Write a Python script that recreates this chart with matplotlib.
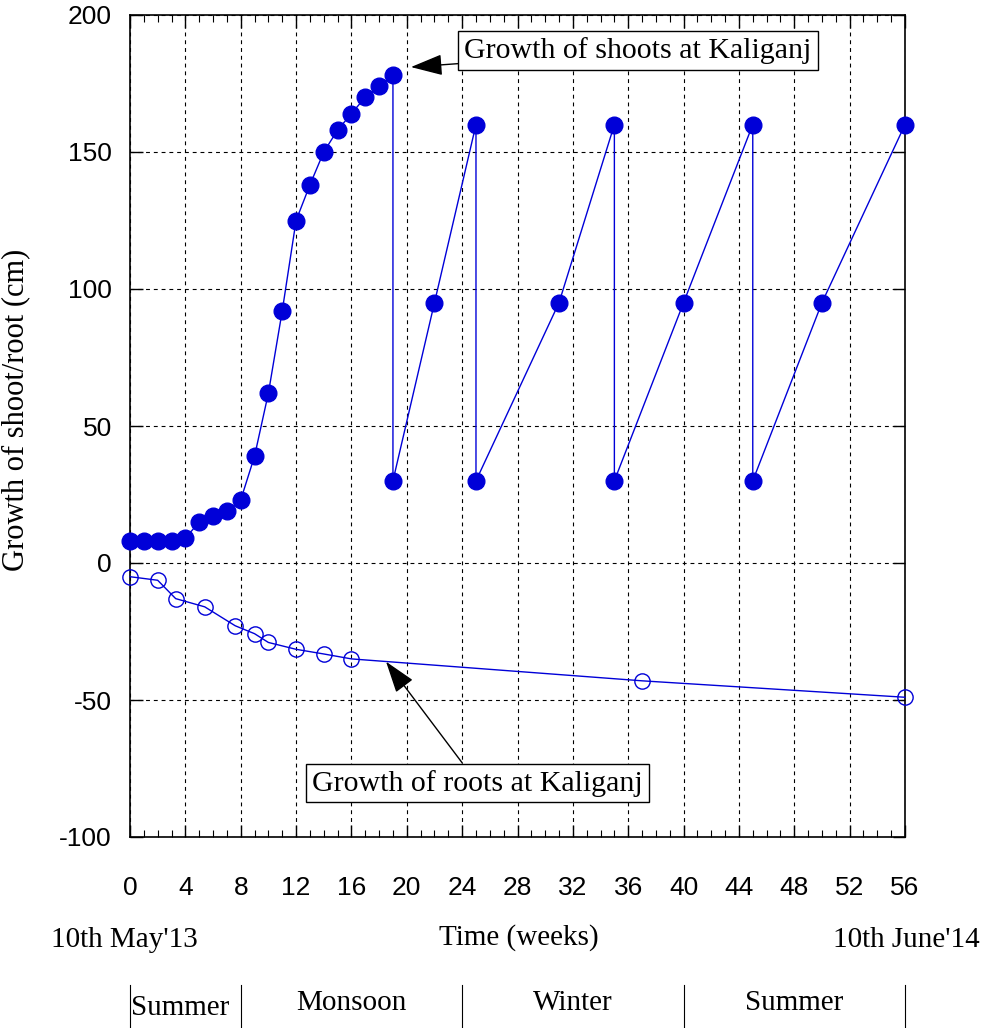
import matplotlib
matplotlib.use("Agg")
import matplotlib.pyplot as plt
import matplotlib.transforms as mtransforms
from matplotlib.ticker import MultipleLocator

plt.rcParams["axes.unicode_minus"] = False

# shoot growth (cm) against time (weeks) - cut back and regrown several times
shoot_weeks = [0, 1, 2, 3, 4, 5, 6, 7, 8, 9, 10, 11, 12, 13, 14, 15, 16, 17, 18, 19,
               19, 22, 25, 25, 31, 35, 35, 40, 45, 45, 50, 56]
shoot_cm = [8, 8, 8, 8, 9, 15, 17, 19, 23, 39, 62, 92, 125, 138, 150, 158, 164, 170, 174, 178,
            30, 95, 160, 30, 95, 160, 30, 95, 160, 30, 95, 160]

# root growth, plotted downward (negative)
root_weeks = [0, 2, 3.3, 5.4, 7.6, 9, 10, 12, 14, 16, 37, 56]
root_cm = [-5, -6.3, -13, -16, -22.9, -25.8, -29, -31.5, -33.2, -35, -43, -49]

# seasons along the time axis
season_edges = [0, 8, 24, 40, 56]
season_names = ["Summer", "Monsoon", "Winter", "Summer"]

blue = "#0000d8"
serif = ["Liberation Serif", "DejaVu Serif"]
sans = ["Liberation Sans", "DejaVu Sans"]

fig = plt.figure(figsize=(9.83, 10.28), dpi=100)
ax = fig.add_axes([130 / 983, 1 - 837 / 1028, 775 / 983, 822 / 1028])

ax.plot(shoot_weeks, shoot_cm, "-o", color=blue, lw=1, ms=12, mec=blue, mfc=blue,
        zorder=3, clip_on=False)
ax.plot(root_weeks, root_cm, "-o", color=blue, lw=1, ms=11, mec=blue, mfc="none",
        mew=1, zorder=3, clip_on=False)

ax.set_xlim(0, 56)
ax.set_ylim(-100, 200)
ax.xaxis.set_major_locator(MultipleLocator(4))
ax.xaxis.set_minor_locator(MultipleLocator(1))
ax.yaxis.set_major_locator(MultipleLocator(50))

ax.grid(True, which="major", color="black", ls=(0, (3.5, 3.5)), lw=0.8)
ax.tick_params(which="both", direction="in", top=True, right=True, color="black")
ax.tick_params(which="major", length=9, width=1)
ax.tick_params(which="minor", length=5, width=0.8)
ax.tick_params(axis="x", which="major", pad=28)
ax.tick_params(axis="y", which="major", pad=13)
for lab in ax.get_xticklabels() + ax.get_yticklabels():
    lab.set_family(sans)
    lab.set_fontsize(19)
for sp in ax.spines.values():
    sp.set_linewidth(1.2)

ax.set_ylabel("Growth of shoot/root (cm)", family=serif, fontsize=22)
ax.yaxis.set_label_coords(-100 / 775, 0.52)

# callouts
box = dict(boxstyle="square,pad=0.2", fc="white", ec="black", lw=1)
arrow = dict(arrowstyle="-|>,head_length=0.9,head_width=0.3", color="black", lw=1,
             shrinkA=0, shrinkB=0, mutation_scale=22)
ax.annotate("Growth of shoots at Kaliganj", xy=(20.3, 181), xytext=(36.7, 187),
            ha="center", va="center", family=serif, fontsize=21.5, bbox=box,
            arrowprops=arrow)
ax.annotate("Growth of roots at Kaliganj", xy=(18.5, -36), xytext=(25.1, -80.3),
            ha="center", va="center", family=serif, fontsize=21.5, bbox=box,
            arrowprops=arrow)

# date and axis captions under the ticks
fig.text(124 / 983, 1 - 940 / 1028, "10th May'13", ha="center", va="center",
         family=serif, fontsize=21)
fig.text(519 / 983, 1 - 938 / 1028, "Time (weeks)", ha="center", va="center",
         family=serif, fontsize=21)
fig.text(906 / 983, 1 - 940 / 1028, "10th June'14", ha="center", va="center",
         family=serif, fontsize=21)

# season strip
trans = mtransforms.blended_transform_factory(ax.transData, fig.transFigure)
for e in season_edges:
    ax.plot([e, e], [1 - 985 / 1028, 0], color="black", lw=0.8, transform=trans,
            clip_on=False)
for i, name in enumerate(season_names):
    if i == 0:
        fig.text(0.1, 1 - 1008 / 1028, name, transform=trans, ha="left", va="center",
                 family=serif, fontsize=21)
    else:
        mid = (season_edges[i] + season_edges[i + 1]) / 2
        fig.text(mid, 1 - 1003 / 1028, name, transform=trans, ha="center", va="center",
                 family=serif, fontsize=21)

fig.savefig("out.png", dpi=100)
